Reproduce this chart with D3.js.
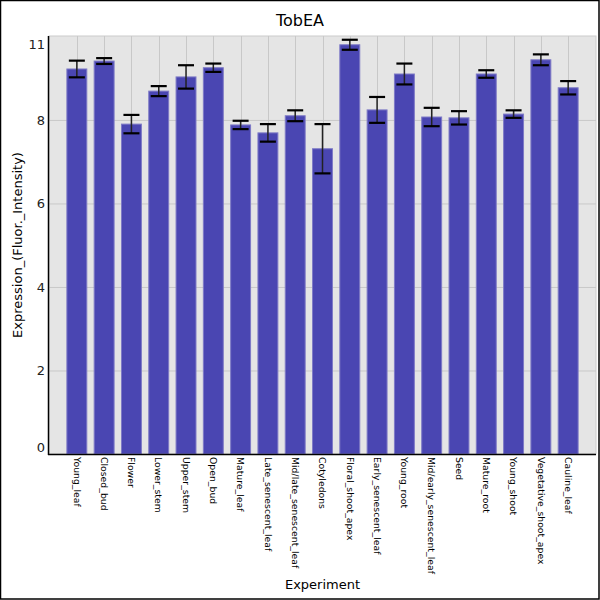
<!DOCTYPE html>
<html>
<head>
<meta charset="utf-8">
<script src="https://cdn.jsdelivr.net/npm/d3@7"></script>
<style>
  body { margin: 0; background: #fff; }
  text { font-family: "DejaVu Sans", sans-serif; }
</style>
</head>
<body>
<svg id="chart" width="600" height="600"></svg>
<script>
const categories = ["Young_leaf","Closed_bud","Flower","Lower_stem","Upper_stem","Open_bud","Mature_leaf","Late_senescent_leaf","Mid/late_senescent_leaf","Cotyledons","Floral_shoot_apex","Early_senescent_leaf","Young_root","Mid/early_senescent_leaf","Seed","Mature_root","Young_shoot","Vegetative_shoot_apex","Cauline_leaf"];
const values = [9.22, 9.41, 7.90, 8.69, 9.03, 9.25, 7.88, 7.69, 8.10, 7.31, 9.80, 8.24, 9.10, 8.07, 8.05, 9.10, 8.14, 9.44, 8.77];
const errors = [0.20, 0.07, 0.22, 0.12, 0.28, 0.10, 0.10, 0.21, 0.13, 0.59, 0.12, 0.31, 0.25, 0.22, 0.16, 0.09, 0.09, 0.13, 0.16];
const yTickValues = [0, 2, 4, 6, 8, 10.01];
const yTickLabels = ["0", "2", "4", "6", "8", "11"];
const title = "TobEA";
const xTitle = "Experiment";
const yTitle = "Expression_(Fluor._Intensity)";

const svg = d3.select("#chart");
const m = { left: 49, right: 596, top: 36, bottom: 454 };

svg.append("rect").attr("x", 0.5).attr("y", 0.5).attr("width", 598.5).attr("height", 598.5)
  .attr("fill", "#fff").attr("stroke", "#000").attr("stroke-width", 1.5);

const x = d3.scaleBand().domain(categories).range([m.left, m.right])
  .paddingInner(0.27).paddingOuter(0.655);
const y = d3.scaleLinear().domain([0, 10.01]).range([m.bottom, m.top]);

// plot background
svg.append("rect").attr("x", m.left).attr("y", m.top)
  .attr("width", m.right - m.left).attr("height", m.bottom - m.top)
  .attr("fill", "#e5e5e5").attr("stroke", "#cccccc").attr("stroke-width", 1);

// gridlines
svg.append("g").selectAll("line.h").data(yTickValues.slice(1, 5)).join("line")
  .attr("x1", m.left).attr("x2", m.right)
  .attr("y1", d => y(d) + 0.5).attr("y2", d => y(d) + 0.5)
  .attr("stroke", "#c8c8c8").attr("stroke-width", 1);
svg.append("g").selectAll("line.v").data(categories).join("line")
  .attr("x1", d => Math.round(x(d) + x.bandwidth() / 2) + 0.5)
  .attr("x2", d => Math.round(x(d) + x.bandwidth() / 2) + 0.5)
  .attr("y1", m.top).attr("y2", m.bottom)
  .attr("stroke", "#c8c8c8").attr("stroke-width", 1);

// bars
svg.append("g").selectAll("rect").data(values).join("rect")
  .attr("x", (d, i) => x(categories[i]))
  .attr("y", d => y(d))
  .attr("width", x.bandwidth())
  .attr("height", d => y(0) - y(d))
  .attr("fill", "#4a46b2")
  .attr("stroke", "#7e7ac6").attr("stroke-width", 1);

// error bars
const eg = svg.append("g");
values.forEach((v, i) => {
  const cx = x(categories[i]) + x.bandwidth() / 2;
  const y1 = y(v + errors[i]), y2 = y(v - errors[i]);
  eg.append("line").attr("x1", cx).attr("x2", cx).attr("y1", y1).attr("y2", y2)
    .attr("stroke", "#222").attr("stroke-width", 1.5);
  [y1, y2].forEach(yy => {
    eg.append("line").attr("x1", cx - 8).attr("x2", cx + 8).attr("y1", yy).attr("y2", yy)
      .attr("stroke", "#000").attr("stroke-width", 2.2);
  });
});

// axes lines
svg.append("line").attr("x1", m.left - 0.5).attr("x2", m.left - 0.5).attr("y1", m.top).attr("y2", m.bottom + 1)
  .attr("stroke", "#000").attr("stroke-width", 1.5);
svg.append("line").attr("x1", m.left - 1).attr("x2", m.right).attr("y1", m.bottom + 0.5).attr("y2", m.bottom + 0.5)
  .attr("stroke", "#000").attr("stroke-width", 1.5);

// y tick labels (clamped inside plot range)
svg.append("g").selectAll("text").data(yTickValues).join("text")
  .attr("x", 45)
  .attr("y", d => Math.min(Math.max(y(d), m.top + 8), m.bottom - 7))
  .attr("dy", "0.36em")
  .attr("text-anchor", "end")
  .attr("font-size", 13)
  .attr("fill", "#222")
  .text((d, i) => yTickLabels[i]);

// x tick labels
svg.append("g").selectAll("text").data(categories).join("text")
  .attr("transform", d => `translate(${x(d) + x.bandwidth() / 2},457) rotate(90)`)
  .attr("dy", "0.35em")
  .attr("text-anchor", "start")
  .attr("font-size", 9.3)
  .attr("fill", "#000")
  .text(d => d);

// titles
svg.append("text").attr("x", 300).attr("y", 26).attr("text-anchor", "middle")
  .attr("font-size", 16).attr("fill", "#000").text(title);
svg.append("text").attr("x", (m.left + m.right) / 2).attr("y", 589).attr("text-anchor", "middle")
  .attr("font-size", 13).attr("fill", "#000").text(xTitle);
svg.append("text").attr("transform", `translate(22,${(m.top + m.bottom) / 2}) rotate(-90)`)
  .attr("text-anchor", "middle").attr("font-size", 13).attr("fill", "#000").text(yTitle);
</script>
</body>
</html>
